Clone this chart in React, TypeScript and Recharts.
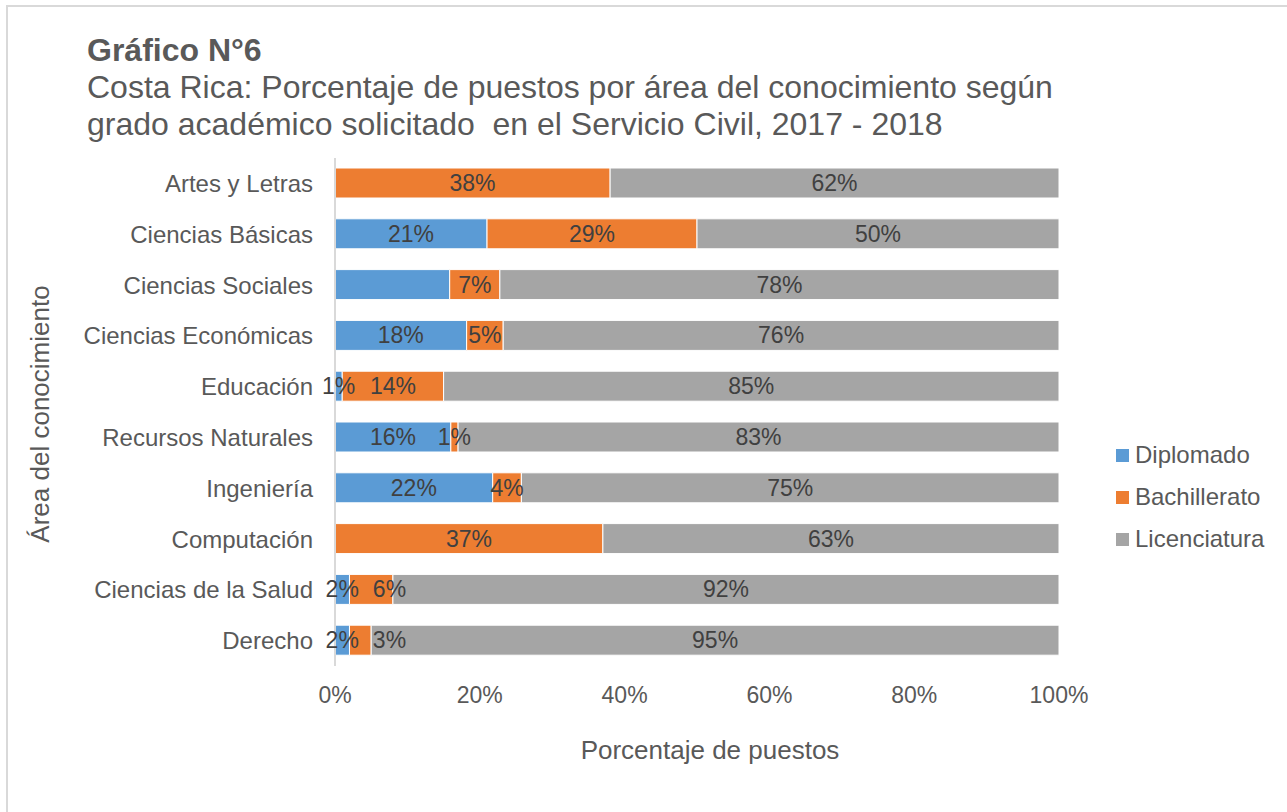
import React from 'react';
import { BarChart, Bar, XAxis, YAxis, LabelList } from 'recharts';

const categories = [
  'Artes y Letras',
  'Ciencias Básicas',
  'Ciencias Sociales',
  'Ciencias Económicas',
  'Educación',
  'Recursos Naturales',
  'Ingeniería',
  'Computación',
  'Ciencias de la Salud',
  'Derecho',
];
const diplomado = [0, 21, 16, 18, 1, 16, 22, 0, 2, 2];
const bachillerato = [38, 29, 7, 5, 14, 1, 4, 37, 6, 3];
const licenciatura = [62, 50, 78, 76, 85, 83, 75, 63, 92, 95];
// labels that the original chart does not print
const hiddenDiplomadoLabels = ['Ciencias Sociales'];
const xTicks = [0, 0.2, 0.4, 0.6, 0.8, 1];

const seriesNames = ['Diplomado', 'Bachillerato', 'Licenciatura'];
const seriesColors = ['#5B9BD5', '#ED7D31', '#A5A5A5'];

const data = categories.map((name, i) => ({
  name,
  Diplomado: diplomado[i],
  Bachillerato: bachillerato[i],
  Licenciatura: licenciatura[i],
}));

const FONT = '"Liberation Sans", Arial, sans-serif';
const TEXT = '#595959';
const LABEL_SIZE = 23;

const textWidth = (s: string) => {
  let w = 0;
  for (const ch of s) w += ch === '%' ? 0.889 : 0.556;
  return w * LABEL_SIZE;
};

const labelText = (x: number, y: number, value: number) => (
  <text
    x={x}
    y={y}
    textAnchor="middle"
    dominantBaseline="central"
    fill="#404040"
    fontSize={LABEL_SIZE}
    fontFamily={FONT}
  >
    {`${value}%`}
  </text>
);

const renderDiplomado = (props: any) => {
  const { x, y, width, height, value } = props;
  if (!value) return null;
  return labelText(x + width / 2, y + height / 2, value);
};

const renderBachillerato = (props: any) => {
  const { x, y, width, height, value, payload } = props;
  if (!value) return null;
  let cx = x + width / 2;
  const row = data.find((d) => d.Bachillerato === value && payload && d.name === payload.name) ||
    data[props.index];
  const dip = row ? row.Diplomado : 0;
  if (dip && value) {
    const dipWidth = (width * dip) / value;
    const dipCenter = x - dipWidth / 2;
    const dipRight = dipCenter + textWidth(`${dip}%`) / 2;
    const myW = textWidth(`${value}%`);
    if (cx - myW / 2 < dipRight + 14) cx = dipRight + 14 + myW / 2;
  }
  return labelText(cx, y + height / 2, value);
};

const renderLicenciatura = (props: any) => {
  const { x, y, width, height, value } = props;
  if (!value) return null;
  return labelText(x + width / 2, y + height / 2, value);
};

const renderers: Record<string, (p: any) => any> = {
  Diplomado: renderDiplomado,
  Bachillerato: renderBachillerato,
  Licenciatura: renderLicenciatura,
};

const labelKeys: Record<string, any> = {
  Diplomado: (d: any) => (hiddenDiplomadoLabels.includes(d.name) ? 0 : d.Diplomado),
  Bachillerato: 'Bachillerato',
  Licenciatura: 'Licenciatura',
};

const YTitle = () => (
  <text
    x={49}
    y={414}
    transform="rotate(-90 49 414)"
    textAnchor="middle"
    fill={TEXT}
    fontSize={26}
    fontFamily={FONT}
  >
    Área del conocimiento
  </text>
);

const XTitle = () => (
  <text x={710} y={759} textAnchor="middle" fill={TEXT} fontSize={26} fontFamily={FONT}>
    Porcentaje de puestos
  </text>
);

export default function App() {
  return (
    <div
      style={{
        position: 'absolute',
        left: 0,
        top: 0,
        width: 1287,
        height: 812,
        background: '#fff',
        overflow: 'hidden',
        fontFamily: FONT,
      }}
    >
      <div
        style={{
          position: 'absolute',
          left: 6,
          top: 5,
          width: 1320,
          height: 840,
          border: '2px solid #d9d9d9',
          boxSizing: 'border-box',
        }}
      />
      <div
        style={{
          position: 'absolute',
          left: 87,
          top: 32,
          color: TEXT,
          fontSize: 32,
          lineHeight: '37px',
          whiteSpace: 'nowrap',
        }}
      >
        <div style={{ fontWeight: 'bold', fontSize: 32 }}>Gráfico N°6</div>
        <div>Costa Rica: Porcentaje de puestos por área del conocimiento según</div>
        <div>grado académico solicitado&nbsp; en el Servicio Civil, 2017 - 2018</div>
      </div>
      <div style={{ position: 'absolute', left: 0, top: 0 }}>
        <BarChart
          width={1287}
          height={812}
          layout="vertical"
          data={data}
          stackOffset="expand"
          margin={{ top: 158, right: 228, bottom: 0, left: 0 }}
        >
          <XAxis
            type="number"
            domain={[0, 1]}
            ticks={xTicks}
            tickFormatter={(v: number) => `${Math.round(v * 100)}%`}
            axisLine={false}
            tickLine={false}
            tickSize={0}
            tickMargin={21}
            height={146}
            tick={{ fill: TEXT, fontSize: 23, fontFamily: FONT }}
            label={<XTitle />}
          />
          <YAxis
            type="category"
            dataKey="name"
            width={335}
            axisLine={{ stroke: '#d9d9d9', strokeWidth: 2 }}
            tickLine={false}
            tickSize={0}
            tickMargin={22}
            tick={{ fill: TEXT, fontSize: 24, fontFamily: FONT }}
            label={<YTitle />}
          />
          {seriesNames.map((s, i) => (
            <Bar
              key={s}
              dataKey={s}
              stackId="a"
              fill={seriesColors[i]}
              stroke="#ffffff"
              strokeWidth={1}
              barSize={30}
              isAnimationActive={false}
            >
              <LabelList dataKey={labelKeys[s]} content={renderers[s]} />
            </Bar>
          ))}
        </BarChart>
      </div>
      <div style={{ position: 'absolute', left: 1116, top: 434, color: TEXT, fontSize: 24 }}>
        {seriesNames.map((s, i) => (
          <div key={s} style={{ height: 42, display: 'flex', alignItems: 'center' }}>
            <span
              style={{
                display: 'inline-block',
                width: 13,
                height: 13,
                background: seriesColors[i],
                marginRight: 6,
              }}
            />
            <span>{s}</span>
          </div>
        ))}
      </div>
    </div>
  );
}
